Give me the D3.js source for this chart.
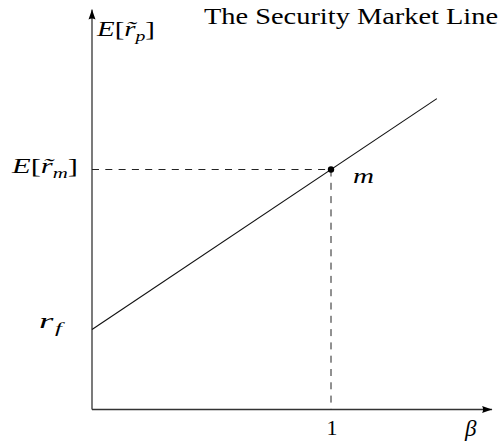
<!DOCTYPE html>
<html><head><meta charset="utf-8">
<script src="https://cdn.jsdelivr.net/npm/d3@7"></script>
<style>body{margin:0;background:#fff}svg{display:block}</style>
</head><body>
<script>
// Data
const riskFree = 1;          // r_f
const marketReturn = 3;      // E[r_m]
const marketBeta = 1;        // beta of market portfolio
const lineBetaEnd = [0, 1.443];
const xTickLabels = ["1"];
const titleText = "The Security Market Line";

const W = 503, H = 444;
const svg = d3.select("body").append("svg").attr("width", W).attr("height", H);
const x = d3.scaleLinear().domain([0, 1]).range([92, 331]);
const y = d3.scaleLinear().domain([0, 5]).range([409.5, 9.5]);
const xMax = 1.674;

const defs = svg.append("defs");
defs.append("marker").attr("id","arr").attr("viewBox","0 0 10 10").attr("refX",10).attr("refY",5)
  .attr("markerWidth",10).attr("markerHeight",10).attr("markerUnits","userSpaceOnUse").attr("orient","auto")
  .append("path").attr("d","M0,1.5 L10,5 L0,8.5 Q2,5 0,1.5Z").attr("fill","#000");

// axes
svg.append("line").attr("x1", x(0)).attr("y1", y(0)).attr("x2", x(xMax)).attr("y2", y(0))
  .attr("stroke","#333").attr("stroke-width",1.3).attr("marker-end","url(#arr)");
svg.append("line").attr("x1", x(0)).attr("y1", y(0)).attr("x2", x(0)).attr("y2", y(5))
  .attr("stroke","#333").attr("stroke-width",1.3).attr("marker-end","url(#arr)");

// dashed guides
const dash = "7,6.3";
svg.append("line").attr("x1", x(0)).attr("y1", y(marketReturn)).attr("x2", x(marketBeta)).attr("y2", y(marketReturn))
  .attr("stroke","#222").attr("stroke-width",1).attr("stroke-dasharray",dash);
svg.append("line").attr("x1", x(marketBeta)).attr("y1", y(marketReturn)).attr("x2", x(marketBeta)).attr("y2", y(0))
  .attr("stroke","#222").attr("stroke-width",1).attr("stroke-dasharray",dash);

// SML
const sml = b => riskFree + (marketReturn - riskFree) * b;
svg.append("path").datum(lineBetaEnd)
  .attr("d", d3.line().x(b => x(b)).y(b => y(sml(b))))
  .attr("stroke","#111").attr("stroke-width",1.1).attr("fill","none");

svg.append("circle").attr("cx", x(marketBeta)).attr("cy", y(marketReturn)).attr("r",3.2).attr("fill","#000");

const serif = "'Liberation Serif', 'DejaVu Serif', serif";
function label(tx, ty, anchor, size) {
  return svg.append("text").attr("x", tx).attr("y", ty).attr("text-anchor", anchor||"start")
    .attr("font-family", serif).attr("font-size", size||22).attr("fill","#000");
}
function fit(t, len) { t.attr("textLength", len).attr("lengthAdjust", "spacingAndGlyphs"); return t; }
// title
fit(label(204, 24, "start", 24).text(titleText), 294);

// E[r~_p]
function eLabel(tx, ty, sub, len) {
  const t = label(tx, ty);
  t.append("tspan").attr("font-style","italic").text("E");
  t.append("tspan").text("[");
  t.append("tspan").attr("font-style","italic").text("r\u0303");
  t.append("tspan").attr("font-style","italic").attr("font-size",15).attr("dy",5).text(sub);
  t.append("tspan").attr("dy",-5).text("]");
  return fit(t, len);
}
eLabel(97, 36, "p", 58);
eLabel(12, 173, "m", 66);

const rf = label(39, 328);
rf.append("tspan").attr("font-style","italic").text("r");
rf.append("tspan").attr("font-style","italic").attr("font-size",15).attr("dy",5).attr("dx",1).text("f");
fit(rf, 23);

fit(label(353, 183).attr("font-style","italic").text("m"), 21);
svg.selectAll(".xt").data(xTickLabels).enter().append("text")
  .attr("x", x(marketBeta)+1).attr("y", 435).attr("text-anchor","middle")
  .attr("font-family", serif).attr("font-size", 22).text(d => d);
label(465, 436, "start", 23).attr("font-style","italic").text("β");
</script>
</body></html>
